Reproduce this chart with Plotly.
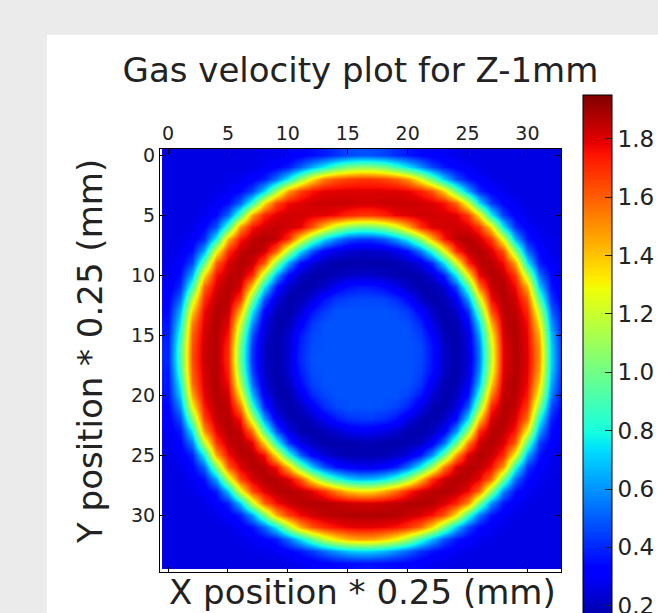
import plotly.graph_objects as go

# grid positions (cell index, 1 cell = 0.25 mm)
x_pos = list(range(34))
y_pos = list(range(35))

# gas velocity, one row per y position (x = 0..33)
row_y00 = [0.26,0.26,0.26,0.26,0.26,0.26,0.26,0.26,0.27,0.27,0.29,0.32,0.35,0.38,0.42,0.46,0.48,0.47,0.45,0.41,0.37,0.34,0.31,0.29,0.27,0.26,0.26,0.26,0.26,0.26,0.26,0.26,0.26,0.26]
row_y01 = [0.26,0.26,0.26,0.26,0.26,0.26,0.26,0.27,0.29,0.33,0.38,0.50,0.65,0.78,0.93,1.03,1.08,1.07,1.01,0.89,0.75,0.60,0.46,0.37,0.32,0.29,0.27,0.26,0.26,0.26,0.26,0.26,0.26,0.26]
row_y02 = [0.26,0.26,0.26,0.26,0.26,0.27,0.28,0.32,0.38,0.54,0.77,1.07,1.34,1.54,1.62,1.66,1.68,1.68,1.65,1.60,1.49,1.27,0.99,0.70,0.48,0.36,0.31,0.27,0.26,0.26,0.26,0.26,0.26,0.26]
row_y03 = [0.26,0.26,0.26,0.26,0.27,0.29,0.34,0.45,0.71,1.10,1.47,1.66,1.75,1.79,1.80,1.80,1.80,1.80,1.80,1.80,1.78,1.73,1.62,1.37,0.99,0.63,0.40,0.32,0.28,0.26,0.26,0.26,0.26,0.26]
row_y04 = [0.26,0.26,0.26,0.27,0.29,0.35,0.51,0.85,1.34,1.65,1.77,1.80,1.82,1.83,1.83,1.83,1.82,1.82,1.83,1.83,1.83,1.82,1.80,1.75,1.59,1.22,0.74,0.44,0.33,0.28,0.26,0.26,0.26,0.26]
row_y05 = [0.26,0.26,0.26,0.28,0.34,0.52,0.93,1.47,1.72,1.80,1.82,1.82,1.80,1.79,1.76,1.71,1.68,1.68,1.72,1.78,1.80,1.82,1.82,1.81,1.80,1.67,1.33,0.78,0.44,0.32,0.27,0.26,0.26,0.26]
row_y06 = [0.26,0.26,0.27,0.33,0.48,0.91,1.49,1.75,1.82,1.84,1.82,1.79,1.62,1.38,1.17,1.04,0.98,0.99,1.07,1.22,1.44,1.69,1.80,1.82,1.82,1.80,1.69,1.35,0.76,0.41,0.31,0.27,0.26,0.26]
row_y07 = [0.26,0.27,0.30,0.41,0.79,1.43,1.74,1.85,1.87,1.84,1.69,1.32,0.98,0.73,0.57,0.46,0.43,0.43,0.49,0.61,0.79,1.06,1.43,1.74,1.85,1.87,1.82,1.68,1.26,0.66,0.37,0.29,0.27,0.26]
row_y08 = [0.26,0.28,0.36,0.64,1.26,1.70,1.84,1.87,1.83,1.60,1.13,0.74,0.47,0.32,0.26,0.23,0.21,0.22,0.23,0.27,0.36,0.54,0.84,1.26,1.70,1.85,1.87,1.81,1.63,1.07,0.52,0.33,0.27,0.26]
row_y09 = [0.27,0.31,0.46,0.97,1.60,1.81,1.87,1.84,1.61,1.07,0.63,0.35,0.24,0.19,0.17,0.17,0.17,0.17,0.17,0.18,0.20,0.26,0.41,0.74,1.22,1.71,1.86,1.86,1.77,1.47,0.77,0.38,0.29,0.27]
row_y10 = [0.28,0.35,0.65,1.34,1.75,1.85,1.86,1.71,1.15,0.64,0.33,0.21,0.17,0.17,0.19,0.21,0.22,0.22,0.20,0.18,0.17,0.18,0.24,0.39,0.77,1.32,1.78,1.87,1.84,1.68,1.14,0.53,0.33,0.27]
row_y11 = [0.29,0.41,0.89,1.59,1.81,1.87,1.81,1.37,0.76,0.36,0.21,0.17,0.18,0.22,0.30,0.36,0.38,0.37,0.34,0.28,0.21,0.17,0.18,0.24,0.45,0.91,1.55,1.84,1.87,1.77,1.45,0.71,0.36,0.28]
row_y12 = [0.32,0.52,1.17,1.70,1.85,1.86,1.68,1.02,0.49,0.25,0.17,0.18,0.25,0.36,0.43,0.45,0.46,0.46,0.45,0.41,0.33,0.22,0.17,0.18,0.29,0.62,1.22,1.77,1.87,1.82,1.62,0.94,0.42,0.29]
row_y13 = [0.34,0.65,1.37,1.77,1.87,1.84,1.44,0.77,0.33,0.19,0.17,0.23,0.36,0.44,0.48,0.48,0.48,0.48,0.48,0.47,0.43,0.32,0.21,0.17,0.22,0.42,0.94,1.63,1.86,1.85,1.71,1.17,0.51,0.32]
row_y14 = [0.36,0.75,1.53,1.80,1.87,1.79,1.23,0.60,0.26,0.17,0.19,0.30,0.43,0.48,0.48,0.48,0.48,0.48,0.48,0.48,0.47,0.40,0.26,0.17,0.18,0.32,0.74,1.44,1.84,1.87,1.76,1.32,0.60,0.33]
row_y15 = [0.38,0.84,1.59,1.82,1.87,1.74,1.09,0.48,0.23,0.17,0.22,0.37,0.46,0.48,0.48,0.48,0.48,0.48,0.48,0.48,0.48,0.44,0.32,0.19,0.17,0.26,0.63,1.29,1.82,1.87,1.78,1.43,0.67,0.35]
row_y16 = [0.39,0.91,1.62,1.83,1.87,1.70,1.00,0.43,0.21,0.17,0.23,0.39,0.47,0.48,0.48,0.48,0.48,0.48,0.48,0.48,0.48,0.46,0.36,0.21,0.17,0.25,0.56,1.22,1.79,1.87,1.79,1.49,0.71,0.36]
row_y17 = [0.40,0.92,1.63,1.83,1.87,1.69,0.98,0.42,0.21,0.17,0.24,0.40,0.48,0.48,0.48,0.48,0.48,0.48,0.48,0.48,0.48,0.46,0.36,0.21,0.17,0.24,0.55,1.20,1.79,1.87,1.80,1.50,0.72,0.36]
row_y18 = [0.38,0.88,1.61,1.82,1.87,1.72,1.03,0.45,0.22,0.17,0.23,0.38,0.47,0.48,0.48,0.48,0.48,0.48,0.48,0.48,0.48,0.45,0.35,0.20,0.17,0.25,0.59,1.24,1.80,1.87,1.79,1.47,0.70,0.35]
row_y19 = [0.37,0.79,1.57,1.81,1.87,1.76,1.15,0.53,0.24,0.17,0.20,0.34,0.45,0.48,0.48,0.48,0.48,0.48,0.48,0.48,0.48,0.43,0.29,0.18,0.18,0.29,0.67,1.36,1.83,1.87,1.77,1.38,0.64,0.34]
row_y20 = [0.36,0.70,1.46,1.79,1.87,1.82,1.33,0.67,0.29,0.18,0.17,0.27,0.40,0.46,0.48,0.48,0.48,0.48,0.48,0.48,0.45,0.37,0.23,0.17,0.20,0.36,0.84,1.53,1.85,1.86,1.74,1.25,0.56,0.33]
row_y21 = [0.33,0.58,1.28,1.74,1.86,1.85,1.56,0.88,0.40,0.21,0.17,0.20,0.30,0.41,0.46,0.48,0.48,0.48,0.47,0.45,0.39,0.27,0.18,0.17,0.25,0.50,1.07,1.71,1.87,1.84,1.67,1.05,0.46,0.31]
row_y22 = [0.31,0.46,1.03,1.66,1.84,1.87,1.75,1.19,0.62,0.29,0.19,0.17,0.21,0.29,0.37,0.42,0.43,0.43,0.41,0.36,0.26,0.19,0.17,0.21,0.35,0.75,1.38,1.82,1.87,1.80,1.56,0.81,0.38,0.29]
row_y23 = [0.29,0.37,0.76,1.49,1.78,1.87,1.84,1.56,0.94,0.48,0.26,0.18,0.17,0.19,0.23,0.27,0.30,0.29,0.26,0.22,0.18,0.17,0.20,0.30,0.60,1.10,1.70,1.86,1.85,1.74,1.30,0.62,0.34,0.28]
row_y24 = [0.27,0.33,0.55,1.17,1.68,1.84,1.87,1.80,1.38,0.84,0.44,0.26,0.20,0.17,0.17,0.17,0.18,0.18,0.17,0.17,0.18,0.21,0.30,0.54,0.98,1.54,1.83,1.87,1.81,1.60,0.95,0.44,0.31,0.27]
row_y25 = [0.27,0.29,0.39,0.78,1.46,1.76,1.86,1.86,1.76,1.33,0.86,0.51,0.32,0.24,0.20,0.18,0.18,0.18,0.19,0.21,0.26,0.36,0.60,0.98,1.49,1.81,1.87,1.84,1.71,1.28,0.64,0.36,0.28,0.26]
row_y26 = [0.26,0.27,0.33,0.51,1.03,1.60,1.80,1.87,1.86,1.76,1.43,1.01,0.69,0.48,0.36,0.31,0.29,0.29,0.32,0.39,0.54,0.78,1.12,1.55,1.81,1.87,1.85,1.76,1.49,0.83,0.42,0.31,0.27,0.26]
row_y27 = [0.26,0.26,0.29,0.36,0.63,1.19,1.65,1.81,1.87,1.86,1.81,1.62,1.30,1.02,0.84,0.72,0.67,0.68,0.75,0.88,1.09,1.39,1.70,1.83,1.87,1.85,1.78,1.57,1.01,0.52,0.34,0.28,0.26,0.26]
row_y28 = [0.26,0.26,0.27,0.30,0.38,0.69,1.24,1.65,1.80,1.86,1.87,1.85,1.79,1.69,1.53,1.40,1.34,1.35,1.44,1.57,1.72,1.82,1.86,1.87,1.85,1.77,1.58,1.07,0.58,0.36,0.29,0.27,0.26,0.26]
row_y29 = [0.26,0.26,0.26,0.27,0.31,0.39,0.69,1.18,1.59,1.76,1.83,1.86,1.87,1.86,1.85,1.83,1.82,1.82,1.83,1.85,1.87,1.87,1.86,1.81,1.72,1.51,1.03,0.59,0.37,0.29,0.27,0.26,0.26,0.26]
row_y30 = [0.26,0.26,0.26,0.26,0.27,0.31,0.38,0.62,1.01,1.44,1.66,1.77,1.82,1.85,1.86,1.87,1.87,1.87,1.87,1.86,1.84,1.81,1.75,1.62,1.33,0.88,0.54,0.36,0.29,0.27,0.26,0.26,0.26,0.26]
row_y31 = [0.26,0.26,0.26,0.26,0.26,0.27,0.30,0.36,0.51,0.76,1.12,1.44,1.62,1.70,1.75,1.78,1.79,1.79,1.77,1.75,1.68,1.58,1.35,1.02,0.69,0.45,0.34,0.29,0.27,0.26,0.26,0.26,0.26,0.26]
row_y32 = [0.26,0.26,0.26,0.26,0.26,0.26,0.27,0.29,0.33,0.38,0.53,0.73,0.96,1.18,1.33,1.43,1.47,1.46,1.40,1.29,1.12,0.89,0.67,0.48,0.37,0.32,0.28,0.27,0.26,0.26,0.26,0.26,0.26,0.26]
row_y33 = [0.26,0.26,0.26,0.26,0.26,0.26,0.26,0.27,0.27,0.29,0.33,0.37,0.44,0.53,0.62,0.69,0.72,0.71,0.67,0.59,0.51,0.42,0.36,0.32,0.29,0.27,0.26,0.26,0.26,0.26,0.26,0.26,0.26,0.26]
row_y34 = [0.26,0.26,0.26,0.26,0.26,0.26,0.26,0.26,0.26,0.26,0.27,0.28,0.30,0.32,0.34,0.35,0.36,0.36,0.35,0.34,0.32,0.30,0.28,0.27,0.26,0.26,0.26,0.26,0.26,0.26,0.26,0.26,0.26,0.26]

velocity = [row_y00, row_y01, row_y02, row_y03, row_y04, row_y05, row_y06, row_y07, row_y08,
            row_y09, row_y10, row_y11, row_y12, row_y13, row_y14, row_y15, row_y16, row_y17,
            row_y18, row_y19, row_y20, row_y21, row_y22, row_y23, row_y24, row_y25, row_y26,
            row_y27, row_y28, row_y29, row_y30, row_y31, row_y32, row_y33, row_y34]

axis_ticks = [0, 5, 10, 15, 20, 25, 30]
cbar_ticks = [0.2, 0.4, 0.6, 0.8, 1.0, 1.2, 1.4, 1.6, 1.8]
z_min, z_max = 0.1, 1.95

# matplotlib "jet"
jet = [
    [0.0, "rgb(0,0,128)"], [0.11, "rgb(0,0,255)"], [0.125, "rgb(0,0,255)"],
    [0.34, "rgb(0,219,255)"], [0.35, "rgb(0,230,247)"], [0.375, "rgb(21,255,226)"],
    [0.64, "rgb(239,255,8)"], [0.65, "rgb(247,245,0)"], [0.66, "rgb(255,236,0)"],
    [0.89, "rgb(255,19,0)"], [0.91, "rgb(232,0,0)"], [1.0, "rgb(128,0,0)"],
]

W, H = 658, 613
L, R, T, B = 160, 561, 149, 572  # plot area in pixels


def px(xp):
    return (xp - L) / (R - L)


def py(yp):
    return (B - yp) / (B - T)


FONT = "DejaVu Sans"
TXT = "#222222"

fig = go.Figure()
fig.add_trace(go.Heatmap(
    x=x_pos, y=y_pos, z=velocity,
    colorscale=jet, zmin=z_min, zmax=z_max, zsmooth="best",
    colorbar=dict(
        x=px(583), xanchor="left", xpad=0,
        y=py(95), yanchor="top", ypad=0,
        thickness=29, thicknessmode="pixels",
        len=540, lenmode="pixels",
        outlinewidth=1, outlinecolor="black",
        tickvals=cbar_ticks, tickformat=".1f",
        ticks="inside", ticklen=7, tickcolor="#222222", tickwidth=1,
        ticklabeloverflow="allow",
        tickfont=dict(family=FONT, size=23, color=TXT),
    ),
))

fig.update_layout(
    width=W, height=H, autosize=False,
    margin=dict(l=L, r=W - R, t=T, b=H - B, pad=0, autoexpand=False),
    paper_bgcolor="#ebebeb", plot_bgcolor="white",
    title=dict(text="Gas velocity plot for Z-1mm", xref="paper", x=0.5, xanchor="center",
               yref="container", y=1 - 70 / H, yanchor="middle",
               font=dict(family=FONT, size=34, color=TXT)),
    xaxis=dict(range=[-0.67, 32.8], side="top", tickvals=axis_ticks,
               ticks="inside", ticklen=5, tickcolor="black", showline=True, linecolor="black",
               linewidth=1, mirror="ticks", showgrid=False, zeroline=False,
               tickfont=dict(family=FONT, size=19, color=TXT)),
    yaxis=dict(range=[34.75, -0.5], tickvals=axis_ticks,
               ticks="inside", ticklen=5, tickcolor="black", showline=True, linecolor="black",
               linewidth=1, mirror="ticks", showgrid=False, zeroline=False,
               tickfont=dict(family=FONT, size=19, color=TXT)),
    shapes=[dict(type="rect", xref="paper", yref="paper", layer="below",
                 x0=px(47), x1=px(W + 5), y0=py(H + 5), y1=py(35),
                 fillcolor="white", line=dict(width=0))],
    annotations=[
        dict(text="X position * 0.25 (mm)", xref="paper", yref="paper",
             x=px(362), y=py(592), xanchor="center", yanchor="middle", showarrow=False,
             font=dict(family=FONT, size=34, color=TXT)),
        dict(text="Y position * 0.25 (mm)", xref="paper", yref="paper", textangle=-90,
             x=px(90), y=py(352), xanchor="center", yanchor="middle", showarrow=False,
             font=dict(family=FONT, size=34, color=TXT)),
    ],
)

fig.write_html("out.html", config={"displayModeBar": False},
               post_script="document.body.style.margin='0';document.body.style.overflow='hidden';")
